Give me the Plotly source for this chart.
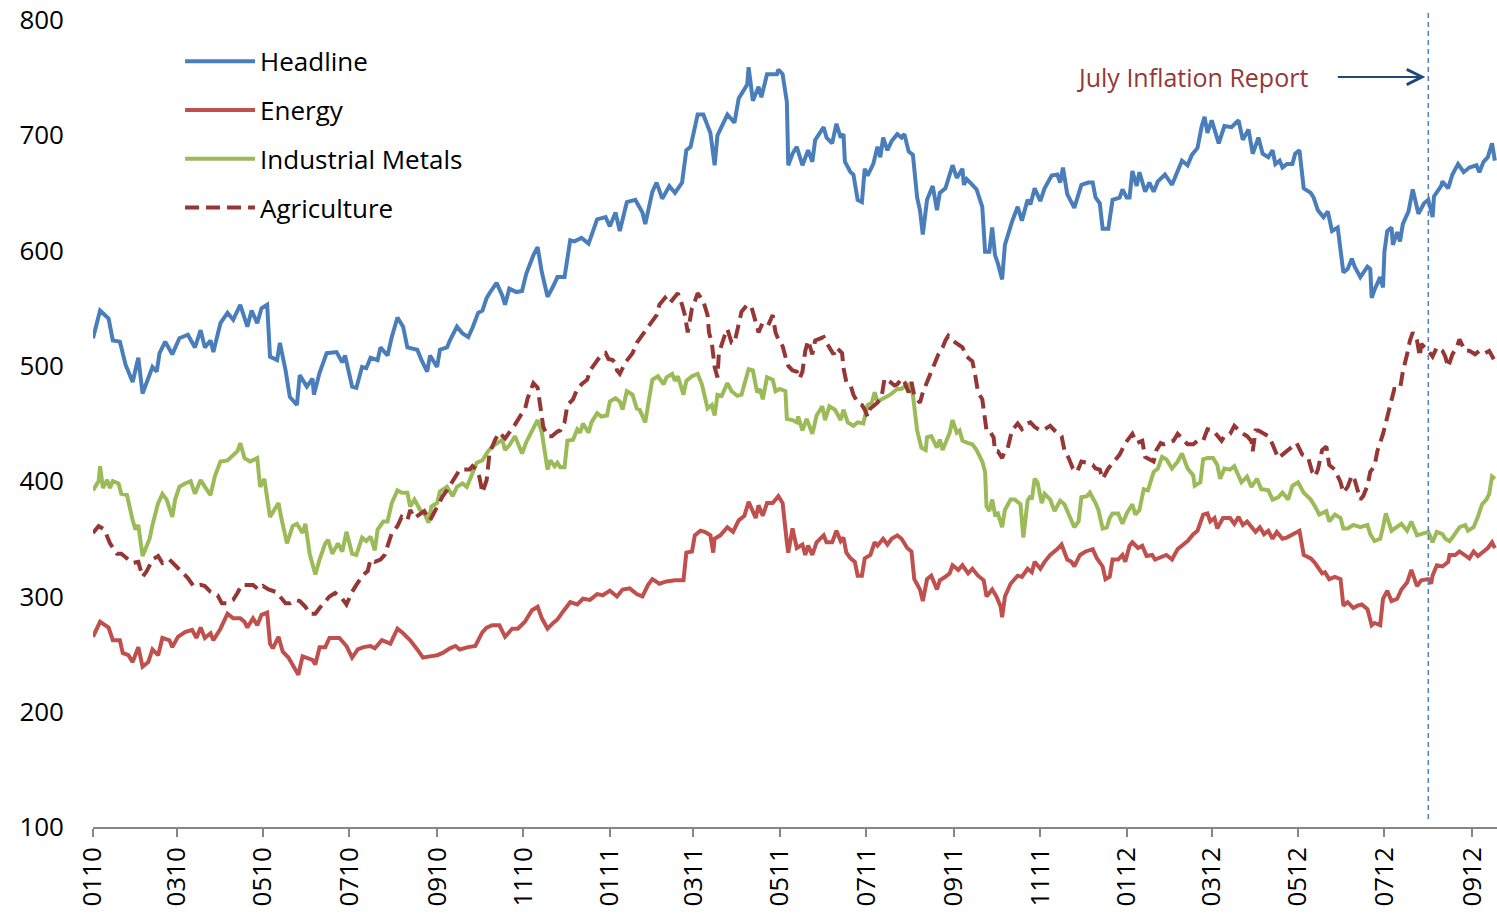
import pandas as pd
import plotly.graph_objects as go

START = pd.Timestamp("2010-01-01")
REPORT_DATE = "2012-08-01"
X_END = "2012-09-18 12:00"

# (days since 2010-01-01, index level)
headline = [(0,524),(5,548),(11,541),(14,522),(19,521),(23,501),(28,486),(32,507),(35,476),(42,499),(45,495),(47,511),(51,521),(56,510),(61,524),(67,527),(72,516),(76,531),(79,516),(83,522),(85,512),(90,537),(95,546),(99,540),(104,553),(109,534),(112,548),(116,537),(119,550),(123,553),(125,508),(130,505),(132,520),(136,496),(139,473),(144,466),(146,492),(151,482),(155,489),(156,475),(160,494),(165,511),
(172,512),(176,503),(178,509),(183,482),(186,481),(190,499),(193,498),(196,507),(201,505),(203,516),(208,509),(211,525),(215,542),(219,534),(222,516),(229,514),(232,505),(236,495),(238,509),(243,499),(245,514),(250,516),(252,522),(257,534),(261,528),(265,525),(268,533),(272,546),(275,548),(278,559),(280,563),(285,572),(289,561),(291,553),(294,567),(299,564),(303,565),(306,580),(311,596),(314,603),(317,581),(321,560),(325,569),(328,577),
(333,577),(337,609),(340,608),(345,611),(350,606),(356,627),(362,629),(365,621),(369,633),(372,617),(377,642),(383,644),(388,633),(390,623),(395,651),(398,659),(402,645),(407,656),(411,650),(416,659),(419,687),(422,690),(427,718),(431,718),(436,702),(439,674),(441,700),(444,708),(448,718),(453,711),(456,732),(462,744),(463,759),(466,730),(470,742),(472,733),(476,753),(483,753),(484,757),(487,753),(490,729),(491,674),(494,684),
(497,690),(501,674),(505,687),(508,677),(510,696),(516,707),(518,698),(522,693),(525,710),(528,698),(530,701),(531,677),(535,668),(537,666),(540,644),(543,642),(545,671),(547,665),(551,675),(554,690),(556,681),(558,698),(561,687),(564,695),(568,701),(571,698),(573,701),(576,686),(579,683),(582,646),(584,635),(586,614),(589,644),(593,656),(596,635),(598,650),(602,654),(604,662),(607,674),(610,663),(614,671),(615,657),(617,662),(621,657),(624,653),(628,638),(630,599),(633,599),(635,620),(637,596),(639,589),(642,575),(644,605),(649,625),(653,638),(656,626),(660,644),
(662,640),(665,654),(669,643),(672,654),(677,665),(681,666),(683,659),(685,672),(688,649),(691,641),(693,637),(698,657),(703,659),(706,659),(708,646),(711,641),(713,619),(717,619),(720,644),(725,646),(727,653),(730,646),(732,646),(734,669),(737,656),(739,668),(743,651),(746,659),(749,651),(752,660),(757,666),(762,657),(766,668),(769,678),(773,674),(776,683),(780,689),(783,708),(785,716),(787,702),(790,713),(795,693),(799,708),(804,707),(809,713),(812,696),(816,705),(819,684),(823,698),
(826,684),(830,681),(833,687),(835,675),(838,678),(840,672),(843,675),(847,675),(849,684),(852,687),(855,654),(860,650),(862,646),(865,635),(869,629),(872,634),(875,617),(879,620),(883,581),(886,584),(889,593),(891,586),(895,577),(900,586),(902,584),(903,559),(905,566),(909,577),(911,568),(912,599),(914,617),(917,620),(918,605),(921,616),(923,608),(925,623),(929,634),(932,653),(934,641),(936,632),(940,641),(943,644),(945,634),(946,629),(947,647),(952,656),(953,660),(957,654),(960,666),(964,675),(968,668),(972,672),(977,674),(979,668),(982,677),(985,681),(988,693),(990,678)]

energy = [(0,265),(5,278),(11,273),(14,262),(19,262),(21,251),(25,249),(28,243),(32,256),(35,239),(39,243),(42,254),(46,249),(49,264),(54,262),(56,256),(60,265),(65,269),(70,271),(73,264),(76,273),(79,264),(83,268),(85,262),(90,272),(95,285),(99,281),(104,281),(107,278),(109,273),(113,281),(116,275),(119,284),(123,286),(125,259),(127,255),(131,265),(134,252),(138,247),(141,241),(145,232),(148,248),(151,247),(155,245),(157,241),(160,256),(164,256),
(167,264),(174,264),(179,257),(183,247),(187,254),(191,256),(196,257),(199,255),(204,262),(210,259),(215,272),(219,268),(224,262),(229,254),(233,247),(238,248),(243,249),(247,251),(252,255),(256,257),(259,254),(265,256),(270,257),(275,269),(278,273),(282,275),(287,275),(291,265),(296,272),(300,272),(305,278),(310,288),(314,291),(317,281),(321,272),(325,277),(328,280),
(332,287),(337,295),(342,293),(346,298),(351,297),(356,302),(360,301),(365,305),(370,300),(374,306),(379,307),(384,302),(388,300),(392,310),(395,315),(400,311),(405,313),(411,314),(417,314),
(419,338),(423,339),(425,353),(429,357),(432,356),(436,353),(438,338),(439,350),(443,353),(448,360),(452,356),(456,366),(460,370),(463,382),(465,376),(468,368),(470,379),(473,370),(476,381),(480,381),(484,387),(487,381),(490,347),(491,338),(494,359),
(497,342),(501,345),(503,336),(505,344),(508,336),(511,347),(516,353),(518,347),(522,347),(525,357),(528,348),(530,351),(532,338),(535,333),(538,330),(540,318),(543,318),(545,333),(549,336),(552,347),(554,344),(558,350),(561,345),(564,350),(568,353),(571,350),(575,342),(578,339),(580,315),(584,306),(586,296),(589,315),(592,318),(596,306),(598,314),(602,317),(605,320),(607,327),(611,323),(614,327),(618,320),(621,324),(625,318),(629,314),(631,300),(635,306),(638,300),(641,291),(642,282),(644,300),(648,311),(653,318),(656,317),(660,324),
(663,321),(665,330),(669,324),(672,330),(676,336),(681,341),(684,345),(688,332),(691,330),(693,326),(697,336),(701,339),(706,341),(709,333),(713,326),(715,315),(718,317),(720,332),(724,332),(727,336),(729,330),(732,344),(734,347),(738,342),(741,344),(744,335),(748,336),(750,332),(755,335),(758,336),(762,332),(766,341),(770,345),(773,348),(777,354),(780,357),(784,371),(787,372),(789,365),(792,368),(794,359),(798,368),(803,368),(806,363),(809,369),(812,362),(815,365),(818,360),(821,356),(824,360),
(827,354),(830,357),(833,350),(836,356),(840,350),(843,351),(847,354),(852,357),(855,336),(860,333),(863,329),(868,320),(870,321),(873,315),(877,317),(881,315),(883,292),(886,295),(890,290),(893,292),(896,293),(900,289),(903,275),(905,277),(909,275),(911,298),(914,305),(917,296),(921,298),(924,306),(928,312),(931,323),(935,309),(938,314),(943,315),(945,311),(946,318),(949,327),(953,326),(957,330),(958,336),(962,336),(965,339),(969,335),(972,333),(975,339),(978,335),(982,339),(985,342),(988,347),(990,342)]

industrial_metals = [(0,392),(4,400),(5,413),(7,394),(10,401),(12,394),(14,400),(18,398),(20,389),(24,388),(28,366),(30,358),(32,362),(35,335),(40,350),(42,362),(46,381),(49,389),(52,384),(56,369),(58,384),(61,395),(65,398),(69,400),(72,389),(76,401),(79,395),(83,388),(86,404),(90,417),(95,418),(98,421),(102,426),(104,433),(107,420),(111,417),(116,420),(118,395),(121,402),(125,369),(129,376),(131,381),(133,368),(137,346),(141,361),(144,363),(148,355),(150,363),(153,337),(157,319),(160,332),(164,346),
(166,349),(169,337),(173,346),(176,339),(179,356),(183,337),(186,336),(190,351),(193,348),(196,352),(199,340),(201,358),(205,365),(208,365),(211,381),(215,392),(218,390),(222,390),(224,378),(227,384),(231,375),(234,372),(237,364),(239,378),(243,381),(245,391),(250,395),(254,387),(257,395),(261,398),(264,395),(268,408),(271,416),(275,418),(279,426),(282,430),(286,434),(289,436),(291,427),(294,431),(298,439),(303,424),(306,434),(310,444),(314,453),(317,442),(321,410),(323,418),(326,413),(328,416),
(330,412),(333,412),(335,435),(339,436),(342,445),(344,442),(346,450),(350,442),(352,451),(356,459),(359,456),(363,457),(365,469),(369,472),(372,469),(374,462),(377,478),(381,475),(384,463),(386,462),(390,451),(392,466),(395,488),(399,491),(403,484),(405,490),(409,493),(411,487),(413,491),(417,475),(419,487),(423,491),(427,493),(430,484),(432,472),(434,463),(437,466),(439,457),(441,475),(444,474),(448,485),(451,478),(455,474),(458,475),(460,484),(463,497),(466,496),(469,477),(471,480),(473,471),(476,490),(480,488),(482,478),(485,480),(489,478),(490,454),(494,453),
(497,451),(498,456),(501,444),(504,454),(508,441),(511,457),(515,465),(517,453),(520,465),(524,462),(528,453),(530,462),(533,451),(537,448),(540,451),(544,450),(547,466),(550,468),(552,477),(554,469),(558,472),(563,475),(568,480),(571,480),(575,484),(577,483),(579,475),(582,444),(585,429),(588,427),(589,438),(592,439),(596,429),(598,436),(600,427),(603,435),(605,442),(607,453),(610,442),(612,444),(614,435),(618,433),(621,432),(624,427),(628,417),(630,408),(631,378),(633,374),(635,384),(637,371),(639,372),(642,360),(644,375),(648,384),(651,384),(655,380),(657,351),(660,383),
(662,387),(663,384),(665,402),(667,399),(670,381),(672,389),(676,384),(679,374),(683,383),(686,380),(689,372),(691,366),(693,360),(696,365),(698,386),(702,387),(704,390),(708,381),(710,375),(713,359),(716,360),(718,368),(720,372),(724,372),(727,363),(730,372),(734,380),(736,371),(739,375),(742,393),(745,392),(749,408),(752,411),(755,421),(758,419),(762,411),(766,417),(769,424),(773,411),(777,405),(778,396),(782,399),(784,419),(787,420),(791,420),(794,414),(796,402),(799,411),(803,410),(806,413),(809,405),(811,399),(815,404),(818,395),(822,402),(825,393),
(826,393),(830,392),(833,384),(837,386),(840,390),(844,384),(847,396),(851,399),(855,390),(860,384),(863,378),(866,371),(871,374),(873,365),(877,371),(881,368),(883,359),(886,359),(890,362),(895,360),(900,362),(902,354),(905,348),(909,350),(911,360),(913,372),(917,357),(921,360),(924,363),(928,357),(931,365),(935,353),(938,354),(943,356),(946,347),(949,356),(953,354),(955,350),(958,348),(960,351),(965,360),(969,362),(971,357),(975,360),(978,369),(981,380),(984,384),(986,389),(988,404),(990,402)]

agriculture = [(0,355),(4,361),(8,358),(12,346),(17,337),(20,337),(25,332),(28,329),(32,330),(35,317),(38,322),(42,332),(46,335),(49,329),(54,332),(59,326),(64,320),(67,316),(71,309),(76,310),(79,309),(83,304),(88,301),(91,294),(95,294),(99,297),(102,303),(105,310),(109,310),(113,310),(117,306),(120,309),(124,306),(129,304),(132,300),(136,294),(139,294),(143,297),(146,296),(150,291),(153,285),(157,285),(160,290),(164,296),
(167,300),(171,303),(176,298),(179,293),(183,304),(186,310),(191,319),(194,322),(196,332),(199,330),(203,332),(206,336),(208,343),(211,355),(215,361),(218,369),(222,366),(224,375),(227,368),(231,371),(234,374),(238,366),(242,375),(244,381),(247,387),(251,394),(254,400),(259,410),(263,410),(266,410),(268,413),(271,410),(273,403),(275,390),(278,401),(280,424),(284,436),(287,442),(291,437),(294,442),(298,449),(302,457),(305,462),(307,472),(311,485),(314,481),(316,463),(318,447),(321,439),(324,439),(328,443),
(330,444),(333,451),(335,466),(339,471),(342,480),(345,484),(349,488),(351,496),(355,503),(358,508),(362,511),(364,506),(367,505),(369,502),(370,496),(372,493),(376,503),(379,508),(381,511),(384,520),(388,527),(391,532),(395,538),(398,544),(400,553),(404,559),(407,554),(411,560),(413,563),(416,553),(418,544),(420,529),(423,550),(425,556),(427,563),(431,556),(434,544),(435,529),(437,520),(439,499),(441,490),(442,511),(444,520),(446,526),(448,532),(451,520),(453,520),(456,535),(458,547),(462,553),(465,551),(468,538),(470,529),(472,535),(476,533),(480,544),(482,529),(484,523),(487,517),(489,508),(491,500),(494,496),
(497,495),(499,489),(501,495),(503,513),(505,522),(508,510),(510,522),(512,523),(516,525),(518,520),(520,516),(523,510),(525,516),(529,511),(530,498),(532,486),(535,483),(537,475),(540,468),(543,466),(545,462),(547,456),(549,463),(551,465),(554,468),(557,474),(559,489),(563,486),(566,483),(568,484),(571,489),(573,486),(576,477),(578,486),(580,474),(584,468),(586,477),(589,486),(592,496),(595,504),(597,510),(600,516),(602,522),(604,526),(607,522),(611,519),(614,516),(617,508),(621,504),(623,492),(625,477),(628,471),(630,456),(631,444),(633,444),(636,438),(637,426),(639,426),(642,420),(644,426),(646,429),(649,444),(653,450),(656,445),(660,450),
(662,451),(665,447),(669,444),(672,445),(676,448),(679,444),(681,442),(684,439),(686,427),(689,420),(692,411),(695,408),(698,417),(702,416),(706,414),(708,411),(711,410),(713,402),(717,411),(722,419),(725,423),(729,433),(734,441),(737,433),(741,435),(743,421),(746,419),(749,417),(751,427),(754,433),(756,432),(759,433),(763,435),(766,441),(770,436),(773,432),(777,432),(780,435),(784,435),(787,445),(791,444),(794,439),(797,435),(799,439),(803,441),(806,448),(809,444),(811,442),(815,439),(818,435),(819,426),(821,444),(823,444),
(826,442),(830,439),(833,432),(837,420),(840,423),(843,426),(847,430),(850,433),(854,423),(858,421),(861,408),(863,404),(865,410),(868,427),(871,430),(873,414),(877,410),(881,399),(883,390),(886,395),(889,405),(891,401),(895,384),(897,387),(900,396),(902,408),(905,413),(907,426),(911,441),(913,451),(916,468),(919,480),(923,480),(925,495),(928,510),(930,522),(932,529),(935,522),(937,508),(938,519),(943,513),(946,508),(949,516),(953,513),(955,508),(957,499),(960,510),(963,516),(965,523),(969,513),(972,513),(976,510),(979,513),(983,511),(986,513),(990,504)]

series = [
    ("Headline", headline, "#4A7EBB", "solid"),
    ("Energy", energy, "#C0504D", "solid"),
    ("Industrial Metals", industrial_metals, "#9BBB59", "solid"),
    ("Agriculture", agriculture, "#953735", "14px,7px"),
]

FONT = "Open Sans"
fig = go.Figure()
for i, (name, pts, color, dash) in enumerate(series):
    dates = [START + pd.Timedelta(days=d) for d, _ in pts]
    vals = [v for _, v in pts]
    fig.add_trace(go.Scatter(
        x=dates, y=vals, name=name, mode="lines", legendgroup=name,
        line=dict(color=color, width=4, dash=dash),
    ))

fig.add_shape(type="line", xref="x", yref="paper", x0=REPORT_DATE, x1=REPORT_DATE,
              y0=0.01, y1=1.012, line=dict(color="#4F81BD", width=1.5, dash="5px,4px"))

fig.add_annotation(xref="paper", yref="paper", x=0.7828, y=0.9294, text="July Inflation Report",
                   xanchor="center", yanchor="middle", showarrow=False,
                   font=dict(family=FONT, size=25, color="#953735"))
fig.add_annotation(xref="x", yref="paper", x=REPORT_DATE, y=0.9294, text="", showarrow=True,
                   ax=-92, ay=0, arrowhead=5, arrowsize=1.5, arrowwidth=2, arrowcolor="#1F497D",
                   standoff=3)

fig.update_layout(
    width=1497, height=916,
    margin=dict(l=93, r=0, t=20, b=89),
    paper_bgcolor="white", plot_bgcolor="white",
    font=dict(family=FONT, size=26, color="black"),
    showlegend=True,
    legend=dict(x=0.062, y=0.978, xanchor="left", yanchor="top", bgcolor="rgba(0,0,0,0)",
                tracegroupgap=12, itemwidth=70, font=dict(size=26)),
    xaxis=dict(
        type="date", range=[START, X_END],
        tick0="2010-01-01", dtick="M2", tickformat="%m%y", tickangle=-90,
        showgrid=False, zeroline=False,
        showline=True, linecolor="#868686", linewidth=1.5,
        ticks="outside", ticklen=8, tickcolor="#868686", tickwidth=1.5,
        tickfont=dict(size=26),
    ),
    yaxis=dict(
        range=[100, 800], dtick=100, showgrid=False, zeroline=False, showline=False,
        ticks="", tickfont=dict(size=26), ticklabelstandoff=28,
    ),
)

fig.write_html("out.html", config={"displayModeBar": False},
               post_script="document.body.style.margin='0';")
